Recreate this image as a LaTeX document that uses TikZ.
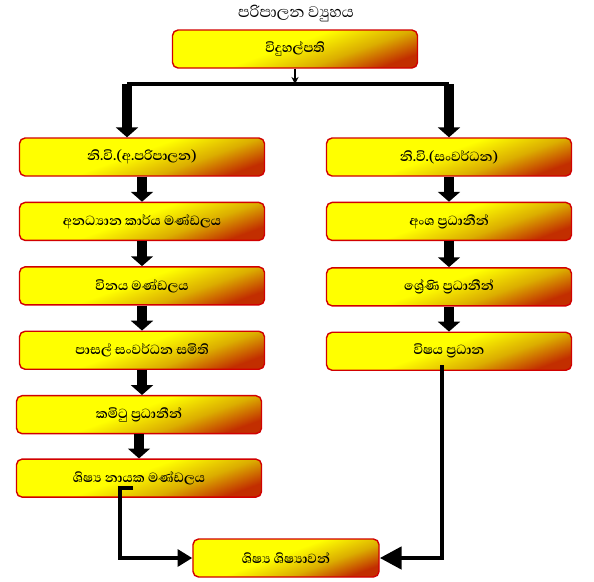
\documentclass[tikz,border=0pt]{standalone}
\usepackage{fontspec}
\newfontfamily\sinhala[Script=Sinhala]{Abhaya Libre}
\usetikzlibrary{arrows.meta,positioning}

\definecolor{boxgold}{rgb}{0.86,0.68,0.0}
\definecolor{boxred}{rgb}{0.76,0.18,0.0}
\definecolor{boxline}{rgb}{0.82,0.0,0.0}
\pgfdeclarehorizontalshading{boxshade}{100bp}{color(0bp)=(yellow); color(47bp)=(yellow); color(62bp)=(boxgold); color(75bp)=(boxred); color(100bp)=(boxred)}

\begin{document}
\begin{tikzpicture}[
  x=0.025cm, y=-0.025cm,
  every node/.style={font=\sinhala\fontsize{12}{14}\selectfont\bfseries},
  unit/.style={draw=boxline, line width=1pt, rounded corners=4pt, shading=boxshade,
               shading angle=-70, minimum width=6.125cm, minimum height=0.95cm, inner sep=0pt},
  down/.style={-{Triangle[length=7pt,width=15.5pt]}, line width=7pt},
  feed/.style={-{Triangle[length=10.5pt,width=12pt]}, line width=3.5pt},
]
\useasboundingbox (0,0) rectangle (594,581);

\node[font=\sinhala\fontsize{14}{16}\selectfont] (title) at (296,14) {පරිපාලන ව්‍යුහය};
\node[unit] (principal) at (295,49) {විදුහල්පති};

% left column
\node[unit] (admin) at (142,157) {නි.වි.(අ.පරිපාලන)};
\node[unit, below=0.625cm of admin] (nonacad) {අනධ්‍යාන කාර්ය මණ්ඩලය};
\node[unit, below=0.625cm of nonacad] (discipline) {විනය මණ්ඩලය};
\node[unit, below=0.625cm of discipline] (sdc) {පාසල් සංවර්ධන සමිති};
\node[unit, below=0.625cm of sdc, xshift=-0.075cm] (committee) {කමිටු ප්‍රධානීන්};
\node[unit, below=0.6cm of committee] (prefects) {ශිෂ්‍ය නායක මණ්ඩලය};

% right column
\node[unit] (dev) at (449,157) {නි.වි.(සංවර්ධන)};
\node[unit, below=0.625cm of dev] (section) {අංශ ප්‍රධානීන්};
\node[unit, below=0.65cm of section] (grade) {ශ්‍රේණි ප්‍රධානීන්};
\node[unit, below=0.625cm of grade] (subject) {විෂය ප්‍රධාන};

\node[unit, minimum width=4.65cm] (students) at (286,558) {ශිෂ්‍ය ශිෂ්‍යාවන්};

% split below the principal
\coordinate (split) at (295,84);
\coordinate (lsplit) at (127,84);
\coordinate (rsplit) at (449,84);
\draw[-{Stealth[length=5pt,width=5pt]}, line width=1pt] (principal) -- (split);
\draw[line width=2.2pt] (lsplit) -- (rsplit);
\draw[down] (lsplit) -- (lsplit |- admin.north);
\draw[down] (rsplit) -- (dev.north);

% column flow
\draw[down] (admin.south) -- (admin.south |- nonacad.north);
\draw[down] (nonacad.south) -- (nonacad.south |- discipline.north);
\draw[down] (discipline.south) -- (discipline.south |- sdc.north);
\draw[down] (sdc.south) -- (sdc.south |- committee.north);
\draw[down] (committee.south) -- (committee.south |- prefects.north);
\draw[down] (dev.south) -- (dev.south |- section.north);
\draw[down] (section.south) -- (section.south |- grade.north);
\draw[down] (grade.south) -- (grade.south |- subject.north);

% into the students box
\coordinate (lturn) at (133,488);
\coordinate (rturn) at (442,365);
\draw[feed] (lturn) -- ++(-13,0) |- (students.west);
\draw[feed, -{Triangle[length=15.5pt,width=15.5pt]}] (rturn) |- (students.east);
\end{tikzpicture}
\end{document}
